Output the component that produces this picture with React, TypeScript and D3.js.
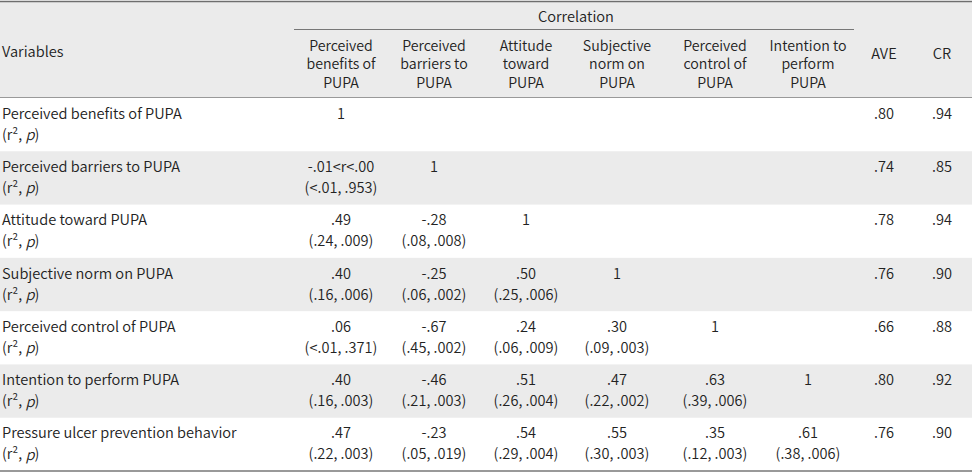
import React from "react";
import * as d3 from "d3";

const rowLabels = [
  "Perceived benefits of PUPA",
  "Perceived barriers to PUPA",
  "Attitude toward PUPA",
  "Subjective norm on PUPA",
  "Perceived control of PUPA",
  "Intention to perform PUPA",
  "Pressure ulcer prevention behavior",
];

const colHeaders = [
  ["Perceived", "benefits of", "PUPA"],
  ["Perceived", "barriers to", "PUPA"],
  ["Attitude", "toward", "PUPA"],
  ["Subjective", "norm on", "PUPA"],
  ["Perceived", "control of", "PUPA"],
  ["Intention to", "perform", "PUPA"],
];

// r values (lower triangle incl. diagonal)
const rValues = [
  ["1"],
  ["-.01<r<.00", "1"],
  [".49", "-.28", "1"],
  [".40", "-.25", ".50", "1"],
  [".06", "-.67", ".24", ".30", "1"],
  [".40", "-.46", ".51", ".47", ".63", "1"],
  [".47", "-.23", ".54", ".55", ".35", ".61"],
];

// (r², p) values
const r2pValues = [
  [""],
  ["(<.01, .953)", ""],
  ["(.24, .009)", "(.08, .008)", ""],
  ["(.16, .006)", "(.06, .002)", "(.25, .006)", ""],
  ["(<.01, .371)", "(.45, .002)", "(.06, .009)", "(.09, .003)", ""],
  ["(.16, .003)", "(.21, .003)", "(.26, .004)", "(.22, .002)", "(.39, .006)", ""],
  ["(.22, .003)", "(.05, .019)", "(.29, .004)", "(.30, .003)", "(.12, .003)", "(.38, .006)"],
];

const aveValues = [".80", ".74", ".78", ".76", ".66", ".80", ".76"];
const crValues = [".94", ".85", ".94", ".90", ".88", ".92", ".90"];

const colKeys = ["c1", "c2", "c3", "c4", "c5", "c6", "AVE", "CR"];

const W = 972;
const H = 473;
const FONT = "'Noto Sans CJK KR', 'Noto Sans', sans-serif";
const TEXT = "#222";
const GREY = "#ebebeb";

export default function App() {
  const x = d3
    .scaleOrdinal<string, number>()
    .domain(colKeys)
    .range([341, 434, 526, 617, 715, 808, 884, 942]);
  const y = d3.scaleBand<string>().domain(rowLabels).range([98, 471]);
  const bw = y.bandwidth();
  const lineGap = 10.5;

  return (
    <svg
      width={W}
      height={H}
      style={{ position: "absolute", left: 0, top: 0 }}
      fontFamily={FONT}
      fontSize={14.6}
      fontWeight={350}
      fill={TEXT}
    >
      <rect x={0} y={0} width={W} height={H} fill="#fff" />
      {/* header background */}
      <rect x={0} y={2} width={W} height={96} fill={GREY} />
      {/* row stripes */}
      {rowLabels.map((r, i) =>
        i % 2 === 1 ? (
          <rect key={r} x={0} y={y(r)} width={W} height={bw} fill={GREY} />
        ) : null
      )}
      {/* lines */}
      <line x1={0} x2={W} y1={1.5} y2={1.5} stroke="#6e6e6e" strokeWidth={1.5} />
      <line x1={294} x2={854} y1={29.5} y2={29.5} stroke="#777" strokeWidth={1} />
      <line x1={0} x2={W} y1={97.5} y2={97.5} stroke="#999" strokeWidth={1.2} />
      <line x1={0} x2={W} y1={471} y2={471} stroke="#777" strokeWidth={1.5} />

      {/* header text */}
      <text x={576} y={15} dominantBaseline="central" textAnchor="middle">
        Correlation
      </text>
      <text x={2} y={50} dominantBaseline="central">
        Variables
      </text>
      {colHeaders.map((lines, j) => (
        <text
          key={j}
          x={x(colKeys[j])}
          textAnchor="middle"
          dominantBaseline="central"
          fontSize={14.2}
        >
          {lines.map((ln, k) => (
            <tspan key={k} x={x(colKeys[j])} y={44.5 + k * 18.8}>
              {ln}
            </tspan>
          ))}
        </text>
      ))}
      <text x={x("AVE")} y={52} textAnchor="middle" dominantBaseline="central">
        AVE
      </text>
      <text x={x("CR")} y={52} textAnchor="middle" dominantBaseline="central">
        CR
      </text>

      {/* body */}
      {rowLabels.map((r, i) => {
        const cy = (y(r) as number) + bw / 2 - 2;
        return (
          <g key={r}>
            <text x={2} y={cy - lineGap} dominantBaseline="central">
              {r}
            </text>
            <text x={2} y={cy + lineGap} dominantBaseline="central">
              (r²,{" "}
              <tspan fontStyle="italic">p</tspan>)
            </text>
            {rValues[i].map((v, j) => (
              <g key={j}>
                <text
                  x={x(colKeys[j])}
                  y={cy - lineGap}
                  textAnchor="middle"
                  dominantBaseline="central"
                >
                  {v}
                </text>
                {r2pValues[i][j] ? (
                  <text
                    x={x(colKeys[j])}
                    y={cy + lineGap}
                    textAnchor="middle"
                    dominantBaseline="central"
                  >
                    {r2pValues[i][j]}
                  </text>
                ) : null}
              </g>
            ))}
            <text x={x("AVE")} y={cy - lineGap} textAnchor="middle" dominantBaseline="central">
              {aveValues[i]}
            </text>
            <text x={x("CR")} y={cy - lineGap} textAnchor="middle" dominantBaseline="central">
              {crValues[i]}
            </text>
          </g>
        );
      })}
    </svg>
  );
}
